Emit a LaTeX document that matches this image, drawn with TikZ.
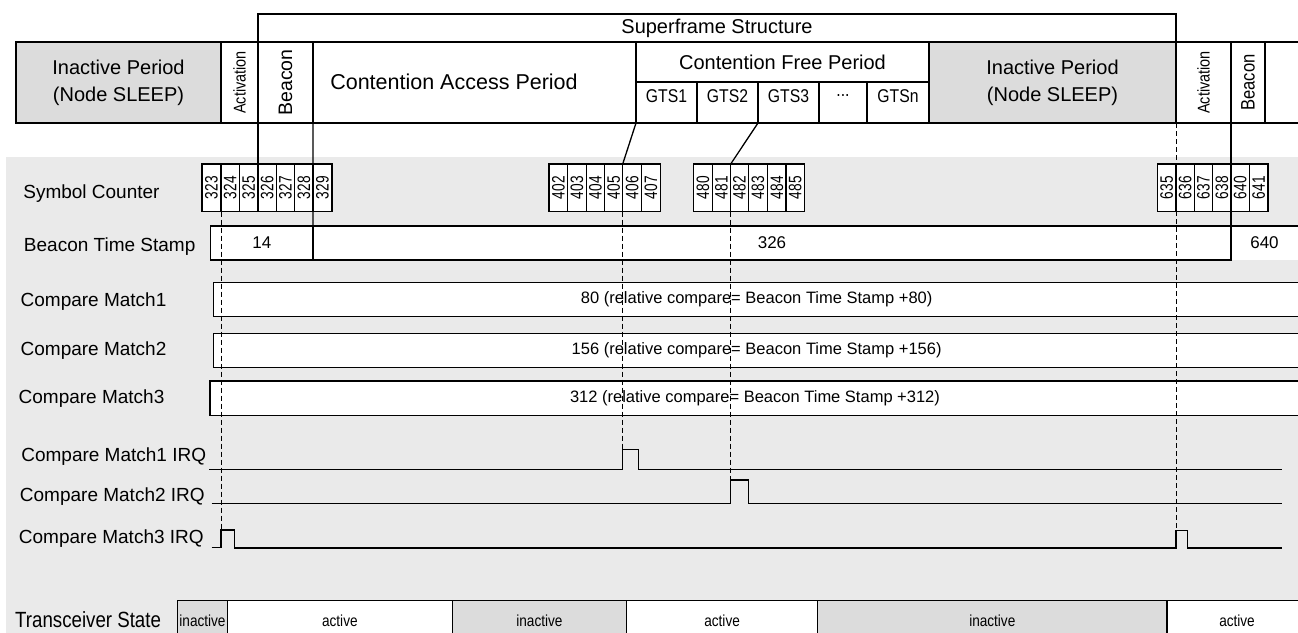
\documentclass[tikz,border=0pt]{standalone}
\usepackage{fontspec}
\usepackage{graphicx}
\setmainfont{Liberation Sans}
\newfontfamily\narrowA[FakeStretch=0.76]{Liberation Sans}
\newfontfamily\narrowB[FakeStretch=0.85]{Liberation Sans}
\newcommand\myfs[2]{\fontsize{#1pt}{#2pt}\selectfont}
\definecolor{bggray}{HTML}{EAEAEA}
\definecolor{inact}{HTML}{DCDCDC}
\tikzset{
  box/.style={draw, rectangle, anchor=north west, inner sep=0pt, outer sep=0pt, fill=white},
  graybox/.style={box, fill=inact},
  lbl/.style={anchor=base west, inner sep=0pt, font=\myfs{19}{22}},
  cnt/.style={box, minimum height=47.5pt, font=\narrowA\myfs{18}{20}},
  cmp/.style={box, minimum height=34.4pt, font=\myfs{16.5}{19}},
  tsa/.style={box, minimum height=40pt, font=\narrowB\myfs{16}{18}},
  tsi/.style={tsa, fill=inact},
  dashline/.style={line width=0.8pt, dash pattern=on 5pt off 3pt},
  wave/.style={line width=1.3pt, line join=miter},
}
\begin{document}
\begin{tikzpicture}[x=1pt, y=-1pt, line width=1.3pt]
\useasboundingbox (0,0) rectangle (1298,632);
\clip (0,0) rectangle (1298,632);
\fill[bggray] (6,157) rectangle (1310,640);

% ---------- top frame row ----------
\node[box, minimum width=918pt, minimum height=28pt, font=\myfs{20}{24}] (sf) at (258,14) {Superframe Structure};
\node[graybox, minimum width=205pt, minimum height=81pt, align=center, font=\myfs{20}{27}] (in1) at (16,42) {Inactive Period\\(Node SLEEP)};
\node[box, minimum width=37pt, minimum height=81pt, font=\narrowB\myfs{17}{20}] (ac1) at (221,42) {\rotatebox{90}{Activation}};
\node[box, minimum width=55pt, minimum height=81pt, font=\myfs{19.5}{22}] (bc1) at (258,42) {\rotatebox{90}{Beacon}};
\node[box, minimum width=323pt, minimum height=81pt] (cap) at (313,42) {};
\node[font=\myfs{21.5}{24}] (captxt) at (454,82) {Contention Access Period};
\node[box, minimum width=293pt, minimum height=40pt, font=\myfs{20}{24}] (cfp) at (636,42) {Contention Free Period};
\node[box, minimum width=61pt, minimum height=41pt] (g1) at (636,82) {};
\node[box, minimum width=61pt, minimum height=41pt] (g2) at (697,82) {};
\node[box, minimum width=61pt, minimum height=41pt] (g3) at (758,82) {};
\node[box, minimum width=48pt, minimum height=41pt] (g4) at (819,82) {};
\node[box, minimum width=62pt, minimum height=41pt] (g5) at (867,82) {};
\node[font=\narrowB\myfs{18.5}{22}] (g1t) at (666.5,96) {GTS1};
\node[font=\narrowB\myfs{18.5}{22}] (g2t) at (727.5,96) {GTS2};
\node[font=\narrowB\myfs{18.5}{22}] (g3t) at (788.5,96) {GTS3};
\node[font=\narrowB\myfs{18.5}{22}] (g4t) at (843,96) {...};
\node[font=\narrowB\myfs{18.5}{22}] (g5t) at (898,96) {GTSn};
\node[graybox, minimum width=247pt, minimum height=81pt, align=center, font=\myfs{20}{27}] (in2) at (929,42) {Inactive Period\\(Node SLEEP)};
\node[box, minimum width=55pt, minimum height=81pt, font=\narrowB\myfs{17}{20}] (ac2) at (1176,42) {\rotatebox{90}{Activation}};
\node[box, minimum width=34pt, minimum height=81pt, font=\narrowB\myfs{19.5}{22}] (bc2) at (1231,42) {\rotatebox{90}{Beacon}};
\node[box, minimum width=50pt, minimum height=81pt] (rest) at (1265,42) {};

% ---------- row labels ----------
\node[lbl] (lsc) at (22.7,198.3) {Symbol Counter};
\node[lbl] (lbts) at (23.3,251.7) {Beacon Time Stamp};
\node[lbl] (lcm1) at (20,306) {Compare Match1};
\node[lbl] (lcm2) at (20,355) {Compare Match2};
\node[lbl] (lcm3) at (18,403.3) {Compare Match3};
\node[lbl] (li1) at (20.7,461.7) {Compare Match1 IRQ};
\node[lbl] (li2) at (19.3,501.7) {Compare Match2 IRQ};
\node[lbl] (li3) at (18.3,543.3) {Compare Match3 IRQ};
\node[lbl, font=\narrowB\myfs{22}{24}] (lts) at (14.5,627) {Transceiver State};

% ---------- symbol counter ----------
\foreach \n/\x/\w in {323/202/19, 324/221/18.5, 325/239.5/18.5, 326/258/18.3, 327/276.3/18.4, 328/294.7/18.3, 329/313/19,
  402/549/18.7, 403/567.7/18.6, 404/586.3/18.2, 405/604.5/18.2, 406/622.7/18.8, 407/641.5/18.8,
  480/693.3/19, 481/712.3/18.4, 482/730.7/17.6, 483/748.3/19.4, 484/767.7/18.3, 485/786/18.3,
  635/1157.5/18.5, 636/1176/18.3, 637/1194.3/18.3, 638/1212.6/18.4, 640/1231/18.5, 641/1249.5/18.5}
  \node[cnt, minimum width=\w pt] (c\n) at (\x,164) {\rotatebox{90}{\n}};

% ---------- beacon time stamp ----------
\node[box, minimum width=102.3pt, minimum height=34pt, font=\myfs{17}{20}] (b1) at (210.7,226) {14};
\node[box, minimum width=918pt, minimum height=34pt, font=\myfs{17}{20}] (b2) at (313,226) {326};
\node[anchor=north west, inner sep=0pt, outer sep=0pt, fill=white, minimum width=67pt, minimum height=34pt, font=\myfs{17}{20}] (b3) at (1231,226) {640};
\draw (b3.north west) -- (b3.north east);
\draw (b2.north east) -- (b2.south east);

% ---------- compare match ----------
\node[cmp, minimum width=1086.7pt] (cm1) at (213.3,282.3) {80 (relative compare= Beacon Time Stamp +80)};
\node[cmp, minimum width=1086.7pt] (cm2) at (213.3,333.3) {156 (relative compare= Beacon Time Stamp +156)};
\node[cmp, minimum width=1090pt, minimum height=34.7pt] (cm3) at (210,381) {312 (relative compare= Beacon Time Stamp +312)};

% ---------- transceiver state ----------
\node[tsi, minimum width=49.8pt] (t1) at (177.6,600.4) {inactive};
\node[tsa, minimum width=224.9pt] (t2) at (227.4,600.4) {active};
\node[tsi, minimum width=174.3pt] (t3) at (452.3,600.4) {inactive};
\node[tsa, minimum width=191pt] (t4) at (626.6,600.4) {active};
\node[tsi, minimum width=349.4pt] (t5) at (817.6,600.4) {inactive};
\node[tsa, minimum width=140pt] (t6) at (1167,600.4) {active};

% ---------- IRQ waveforms ----------
\coordinate (p1) at (622.7,449.3);
\coordinate (p2) at (730.7,480);
\coordinate (p3a) at (221,530);
\coordinate (p3b) at (1176,530.7);
\draw[wave] (209.3,469.7) -- (622.7,469.7) -- (p1) -- (638.3,449.3) -- (638.3,469.7) -- (1282.3,469.7);
\draw[wave] (211.7,503.3) -- (730.7,503.3) -- (p2) -- (748.7,480) -- (748.7,503.3) -- (1282.3,503.3);
\draw[wave] (211.7,547.7) -- (221,547.7) -- (p3a) -- (234.3,530) -- (234.3,548) -- (1176,548) -- (p3b) -- (1187.7,530.7) -- (1187.7,548) -- (1282.3,548);

% ---------- connectors ----------
\draw (bc1.south west) -- (c326.north west);
\draw (bc1.south east) -- (b1.south east);
\draw (g1.south west) -- (c406.north west);
\draw (g2.south east) -- (c482.north west);
\draw (bc2.south west) -- (b2.south east);
\draw[dashline] (c324.south west) -- (p3a);
\draw[dashline] (ac2.south west) -- (p3b);
\draw[dashline] (c406.south west) -- (p1);
\draw[dashline] (c482.south west) -- (p2);
\end{tikzpicture}
\end{document}
